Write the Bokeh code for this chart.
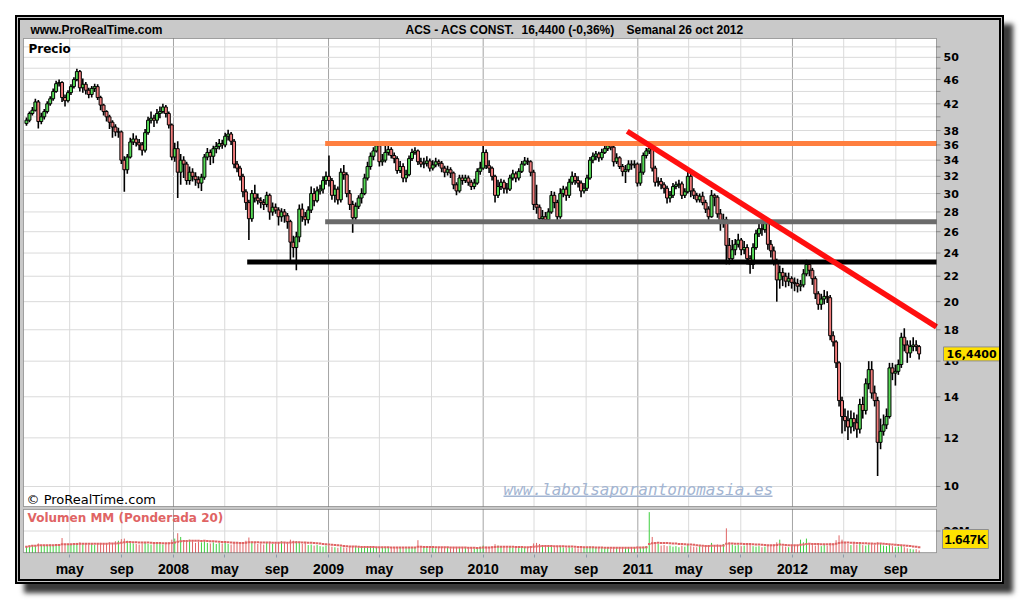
import numpy as np
import pandas as pd
from bokeh.plotting import figure
from bokeh.layouts import column
from bokeh.models import ColumnDataSource, Range1d, FixedTicker, Label, BoxAnnotation
from bokeh.embed import file_html
from bokeh.resources import INLINE
from bokeh.core.properties import value

# ---------------- data (weekly, ACS) ----------------
first_date = "2007-01-19"
last_date = "2012-10-26"
first_open = 39.0

close_2007 = [39.5, 40.5, 41.0, 42.3, 39.3, 40.0, 40.8, 42.0, 42.8, 44.0, 45.3, 45.5, 43.0, 42.5, 43.8, 44.8, 46.0, 47.4, 44.6, 45.2,
              44.2, 43.5, 44.5, 44.8, 43.0, 41.8, 40.8, 40.0, 39.2, 38.5, 37.8, 37.8, 34.0, 32.8, 34.4, 36.4, 36.8, 36.3, 36.0, 35.3,
              37.7, 39.5, 39.8, 39.5, 40.5, 40.8, 41.5, 40.5, 38.8, 34.4]
close_2008 = [35.5, 32.5, 34.0, 33.5, 31.5, 32.5, 32.0, 31.6, 31.2, 31.9, 34.4, 35.0, 34.5, 35.5, 35.8, 36.2, 36.0, 37.2, 37.5, 36.5,
              33.5, 33.0, 32.0, 30.2, 29.0, 27.3, 30.0, 29.5, 29.2, 29.0, 28.8, 29.8, 28.0, 28.5, 28.2, 27.5, 28.0, 27.6, 27.0, 25.0,
              24.5, 25.5, 28.3, 27.5, 27.2, 28.2, 30.0, 29.2, 30.3, 30.5, 31.5, 32.0]
close_2009 = [31.5, 29.8, 30.5, 29.3, 32.5, 32.2, 30.0, 28.8, 27.4, 28.6, 29.5, 30.0, 31.8, 33.2, 34.5, 35.2, 35.9, 33.8, 34.0, 35.0,
              35.4, 34.6, 34.2, 32.7, 33.2, 31.8, 32.2, 34.2, 35.0, 35.2, 33.8, 33.5, 33.6, 33.9, 33.0, 33.4, 33.8, 33.6, 33.0, 32.5,
              32.8, 32.4, 31.0, 30.3, 31.8, 31.5, 31.8, 31.3, 30.8, 31.2, 32.6, 33.0]
close_2010 = [35.0, 33.3, 33.0, 32.0, 29.8, 30.8, 31.3, 30.6, 30.5, 31.8, 32.3, 31.8, 32.6, 33.5, 33.9, 33.8, 32.5, 28.8, 28.5, 27.3,
              27.5, 27.2, 28.0, 29.8, 29.0, 27.5, 30.0, 30.5, 29.8, 31.3, 32.0, 31.5, 31.2, 30.3, 30.6, 31.8, 34.0, 34.5, 34.8, 34.3,
              35.0, 35.5, 35.9, 35.7, 33.8, 34.3, 33.2, 32.6, 32.8, 33.5, 33.4, 33.5, 31.2]
close_2011 = [32.5, 34.6, 35.2, 35.5, 33.0, 31.3, 31.4, 31.0, 30.6, 29.5, 29.8, 30.8, 31.0, 31.1, 29.8, 30.2, 32.0, 30.3, 29.8, 29.3,
              29.7, 29.0, 28.3, 27.5, 29.8, 29.6, 27.8, 26.8, 27.2, 24.7, 23.5, 24.3, 24.8, 25.2, 24.3, 24.5, 23.5, 23.0, 24.5, 25.8,
              26.3, 26.2, 26.8, 24.8, 24.2, 23.3, 21.7, 22.3, 22.0, 21.6, 21.8, 21.5]
close_2012 = [21.4, 21.2, 21.3, 22.2, 23.0, 22.5, 21.8, 20.6, 19.8, 20.2, 20.4, 20.3, 17.6, 17.2, 15.9, 13.8, 13.0, 12.8, 12.5, 12.9,
              12.7, 12.4, 13.6, 13.3, 14.7, 15.5, 14.2, 13.8, 11.8, 12.3, 12.6, 13.0, 15.6, 15.3, 15.4, 15.8, 17.5, 17.0, 16.5, 16.9,
              17.0, 16.9, 16.44]

high_2007 = [39.9, 40.8, 41.5, 42.8, 42.6, 40.6, 41.2, 42.4, 43.2, 44.5, 45.8, 46.0, 45.7, 43.5, 44.2, 45.2, 46.4, 47.9, 47.7, 46.2,
             45.6, 44.6, 44.9, 45.3, 45.2, 43.3, 42.0, 41.0, 40.3, 39.5, 38.9, 38.4, 38.0, 34.5, 34.8, 37.0, 37.6, 37.3, 36.8, 36.4,
             38.2, 40.0, 40.8, 40.3, 41.2, 41.6, 42.0, 41.8, 40.8, 39.0]
high_2008 = [36.3, 36.5, 34.8, 34.5, 33.8, 33.2, 33.0, 32.5, 32.0, 32.3, 34.8, 35.6, 35.4, 35.9, 36.4, 36.8, 36.7, 37.7, 38.1, 37.8,
             36.8, 33.9, 33.3, 32.3, 30.5, 29.3, 30.4, 31.0, 30.0, 29.6, 29.4, 30.2, 30.0, 29.0, 28.9, 28.5, 28.4, 28.3, 27.9, 27.2,
             25.6, 26.0, 28.8, 28.9, 28.0, 28.6, 30.8, 30.6, 30.8, 31.0, 32.0, 32.6]
high_2009 = [34.6, 31.8, 31.0, 30.8, 33.0, 33.4, 32.5, 30.4, 29.2, 29.0, 29.8, 30.6, 32.3, 33.8, 35.0, 35.7, 36.3, 36.1, 34.8, 35.9,
             35.9, 35.7, 35.0, 34.5, 33.9, 33.6, 32.8, 34.6, 35.5, 35.7, 35.4, 34.3, 34.3, 34.5, 34.2, 34.0, 34.3, 34.1, 33.9, 33.3,
             33.3, 33.1, 32.6, 31.3, 32.2, 32.2, 32.2, 32.1, 31.6, 31.7, 33.0, 33.8]
high_2010 = [36.2, 35.4, 34.0, 33.2, 32.2, 31.6, 31.7, 31.6, 31.2, 32.2, 32.8, 32.6, 33.0, 33.9, 34.4, 34.3, 34.0, 32.8, 31.0, 28.8,
             28.2, 28.0, 28.4, 30.3, 30.2, 29.3, 30.6, 30.9, 30.8, 31.7, 32.6, 32.4, 32.0, 31.5, 31.2, 32.2, 34.4, 35.0, 35.2, 35.1,
             35.5, 35.9, 36.3, 36.3, 35.9, 34.9, 34.5, 33.5, 33.4, 34.0, 34.0, 34.0, 33.7]
high_2011 = [33.6, 35.0, 35.6, 36.1, 35.7, 33.3, 31.9, 31.8, 31.3, 30.9, 30.3, 31.2, 31.4, 31.6, 31.4, 30.6, 32.6, 32.3, 30.6, 30.1,
             30.0, 30.2, 29.3, 28.6, 30.4, 30.0, 29.8, 28.3, 27.8, 27.5, 25.4, 25.2, 25.3, 25.8, 25.4, 25.1, 24.8, 23.8, 24.9, 26.2,
             26.8, 26.8, 27.3, 27.0, 25.2, 24.6, 23.5, 22.9, 22.7, 22.3, 22.3, 22.0]
high_2012 = [21.9, 21.8, 21.7, 22.6, 23.4, 23.3, 22.7, 22.0, 20.8, 20.6, 20.9, 20.8, 20.5, 17.9, 17.3, 16.0, 14.0, 13.4, 13.3, 13.3,
             13.2, 13.1, 13.9, 14.0, 15.0, 16.0, 16.0, 14.6, 14.0, 12.9, 13.1, 13.4, 15.9, 15.9, 15.8, 16.1, 17.8, 18.1, 17.3, 17.3,
             17.5, 17.3, 17.0]

low_2007 = [38.7, 39.2, 40.2, 40.8, 38.3, 38.9, 39.6, 40.5, 41.7, 42.5, 43.8, 44.8, 42.3, 41.6, 42.2, 43.4, 44.5, 45.7, 44.0, 43.8,
            43.5, 42.9, 43.0, 43.9, 42.6, 41.0, 40.2, 39.3, 38.2, 37.0, 37.2, 37.0, 33.5, 30.2, 32.3, 34.2, 36.0, 35.8, 35.3, 34.6,
            35.0, 37.4, 39.0, 38.5, 39.0, 39.8, 40.5, 39.9, 38.3, 34.0]
low_2008 = [33.8, 29.5, 31.0, 31.8, 31.0, 31.0, 31.4, 30.9, 30.6, 30.3, 31.6, 34.0, 33.4, 33.6, 34.9, 35.4, 35.5, 35.7, 36.6, 36.0,
            33.0, 32.5, 31.5, 29.6, 28.2, 25.2, 27.0, 29.0, 28.8, 28.4, 28.2, 28.5, 27.2, 27.6, 27.8, 26.6, 27.0, 26.9, 26.3, 23.3,
            23.6, 22.5, 25.0, 27.0, 26.6, 26.8, 27.9, 28.6, 29.0, 29.9, 30.0, 31.0]
low_2009 = [30.8, 29.3, 29.0, 28.8, 29.0, 31.6, 29.6, 28.2, 25.9, 27.0, 28.3, 28.9, 29.8, 31.5, 32.8, 34.0, 35.0, 33.2, 33.3, 33.7,
            34.6, 34.2, 33.6, 32.3, 32.4, 31.3, 31.3, 32.0, 33.9, 34.7, 33.4, 33.1, 33.0, 33.2, 32.6, 32.7, 33.1, 33.2, 32.5, 31.9,
            32.1, 31.8, 30.5, 29.8, 30.1, 31.0, 31.2, 30.9, 30.4, 30.5, 31.0, 32.2]
low_2010 = [32.8, 32.9, 32.4, 31.5, 29.0, 29.5, 30.4, 30.0, 30.0, 30.3, 31.5, 31.3, 31.5, 32.4, 33.3, 33.4, 32.0, 28.2, 27.8, 27.0,
            27.0, 26.9, 26.9, 27.8, 28.4, 27.0, 27.3, 29.6, 29.2, 29.5, 31.0, 31.0, 30.7, 29.6, 30.0, 30.3, 31.6, 33.6, 34.0, 33.8,
            34.0, 34.8, 35.2, 35.3, 33.2, 33.5, 32.9, 32.0, 31.2, 32.5, 32.8, 33.0, 30.8]
low_2011 = [30.9, 32.2, 34.2, 34.8, 32.6, 30.8, 30.8, 30.5, 30.0, 28.9, 29.0, 29.5, 30.5, 30.6, 29.4, 29.5, 30.0, 29.6, 29.4, 29.0,
            29.0, 28.7, 27.9, 27.0, 27.4, 28.6, 27.4, 26.1, 26.4, 23.0, 23.0, 23.2, 23.8, 24.5, 23.8, 23.9, 23.0, 22.2, 22.6, 24.3,
            25.5, 25.6, 25.9, 24.3, 23.6, 22.9, 20.0, 21.0, 21.2, 21.1, 21.2, 21.0]
low_2012 = [20.8, 20.7, 20.8, 21.1, 22.0, 22.0, 21.3, 20.2, 19.4, 19.4, 19.8, 19.9, 17.3, 16.9, 15.6, 13.5, 12.2, 12.3, 11.9, 12.2,
            12.3, 12.0, 12.2, 12.9, 13.1, 14.4, 13.9, 13.5, 10.4, 11.5, 12.1, 12.4, 12.9, 14.9, 14.6, 15.2, 15.6, 16.6, 15.9, 16.2,
            16.6, 16.6, 16.1]

# volume in millions
vol_2007 = [5.5, 6.5, 7.0, 6.0, 8.5, 7.0, 6.5, 6.8, 7.5, 7.2, 8.0, 7.5, 13.5, 8.0, 7.0, 7.5, 8.5, 9.0, 9.5, 7.8,
            8.0, 7.5, 8.2, 7.0, 8.5, 9.0, 8.0, 8.5, 9.5, 8.0, 10.5, 11.0, 12.5, 13.0, 11.0, 9.5, 8.5, 8.0, 7.5, 8.5,
            9.0, 8.0, 7.5, 8.0, 8.5, 9.0, 7.5, 8.0, 9.5, 12.0]
vol_2008 = [13.0, 18.0, 14.5, 11.5, 11.0, 12.0, 10.5, 9.0, 10.0, 9.5, 11.0, 9.0, 8.5, 9.5, 8.0, 9.0, 8.5, 9.5, 8.0, 7.5,
            10.0, 9.0, 8.5, 9.5, 11.0, 14.0, 10.0, 9.5, 8.0, 8.5, 7.5, 9.5, 10.0, 8.0, 8.5, 9.0, 10.5, 9.0, 8.5, 12.0,
            11.0, 10.5, 9.0, 8.0, 9.5, 7.0, 7.5, 6.5, 7.0, 6.0, 5.5, 6.5]
vol_2009 = [6.0, 5.5, 5.0, 4.5, 5.5, 4.8, 4.5, 5.0, 5.8, 5.2, 4.8, 4.5, 5.0, 5.5, 4.8, 5.0, 4.5, 5.2, 4.8, 4.5,
            5.0, 4.2, 4.6, 5.0, 4.5, 4.8, 4.2, 4.5, 5.0, 4.6, 11.5, 5.0, 4.5, 4.2, 4.8, 4.5, 4.0, 4.6, 4.3, 4.8,
            4.5, 4.0, 5.0, 4.6, 4.2, 4.8, 4.5, 4.0, 4.4, 3.8, 4.2, 5.5]
vol_2010 = [6.5, 5.5, 5.0, 5.8, 7.8, 6.5, 5.5, 5.0, 4.8, 5.2, 4.6, 4.5, 4.2, 4.8, 4.4, 4.6, 6.0, 8.5, 9.0, 8.0,
            6.5, 6.0, 5.5, 6.2, 5.0, 5.8, 5.5, 4.8, 4.5, 5.0, 4.6, 4.2, 4.0, 4.5, 4.2, 4.8, 5.5, 4.8, 4.5, 4.2,
            4.6, 4.0, 4.4, 3.8, 5.0, 4.5, 4.2, 4.8, 4.5, 4.2, 4.8, 5.0, 5.5]
vol_2011 = [5.0, 5.5, 6.0, 37.5, 14.5, 9.0, 8.0, 6.5, 7.0, 6.0, 6.5, 5.5, 6.0, 5.0, 6.5, 5.5, 7.0, 6.0, 5.5, 5.0,
            6.0, 5.5, 6.5, 7.0, 9.0, 6.0, 7.5, 6.5, 8.0, 22.5, 9.5, 7.5, 6.5, 7.0, 6.0, 6.5, 7.0, 7.5, 6.0, 5.5,
            6.0, 5.0, 5.5, 7.0, 6.5, 7.5, 9.5, 12.0, 6.0, 5.5, 5.0, 6.0]
vol_2012 = [6.5, 7.0, 12.0, 9.5, 13.0, 8.0, 7.0, 6.5, 7.5, 6.0, 7.0, 6.5, 9.0, 8.5, 11.5, 16.0, 12.0, 9.5, 8.0, 7.0,
            9.0, 7.5, 8.5, 7.0, 6.5, 7.5, 8.0, 7.0, 9.5, 8.0, 6.5, 6.0, 7.5, 6.0, 5.0, 5.5, 6.5, 5.0, 4.0, 3.5,
            3.0, 3.2, 2.0]

# drawn support / resistance lines
level_prices = [36.2, 27.0, 23.2]
level_starts = ["2008-12-24", "2008-12-24", "2008-06-23"]
level_colors = ["#FF7F3F", "#6B6B6B", "#000000"]
trend_dates = ["2010-12-07", "2012-12-06"]
trend_prices = [37.9, 18.2]

price_ticks = list(range(10, 54, 2))
price_labelled = [10, 12, 14, 16, 18, 20, 22, 24, 26, 28, 30, 32, 34, 36, 38, 42, 46, 50]
month_ticks = ["2007-05-01", "2007-09-01", "2008-01-01", "2008-05-01", "2008-09-01", "2009-01-01", "2009-05-01",
               "2009-09-01", "2010-01-01", "2010-05-01", "2010-09-01", "2011-01-01", "2011-05-01", "2011-09-01",
               "2012-01-01", "2012-05-01", "2012-09-01"]
month_labels = ["may", "sep", "2008", "may", "sep", "2009", "may", "sep", "2010", "may", "sep", "2011",
                "may", "sep", "2012", "may", "sep"]
vol_ticks = [20e6]
vol_tick_labels = ["20M"]
last_vol_text = "1.647K"
last_price_text = "16,4400"

# ---------------- build ----------------
dates = pd.date_range(first_date, last_date, freq="W-FRI")
close = np.array(close_2007 + close_2008 + close_2009 + close_2010 + close_2011 + close_2012)
high = np.array(high_2007 + high_2008 + high_2009 + high_2010 + high_2011 + high_2012)
low = np.array(low_2007 + low_2008 + low_2009 + low_2010 + low_2011 + low_2012)
vol = np.array(vol_2007 + vol_2008 + vol_2009 + vol_2010 + vol_2011 + vol_2012) * 1e6
opn = np.concatenate([[first_open], close[:-1]])
up = close >= opn

GREEN = "#55DA55"
RED = "#F07B7B"
VGREEN = "#3FCF3F"
VRED = "#E06464"
GRAYBG = "#C9C9C9"
GRID_L = "#DADADA"
GRID_D = "#A4A4A4"
TICK_C = "#8A8A8A"

# weighted moving average (20) of volume
w = np.arange(1, 21, dtype=float)
wma = []
for i in range(len(vol)):
    seg = vol[max(0, i - 19): i + 1]
    ww = w[-len(seg):]
    wma.append(float((seg * ww).sum() / ww.sum()))

src = ColumnDataSource(dict(
    date=dates, open=opn, close=close, high=high, low=low,
    top=np.maximum(opn, close), bottom=np.minimum(opn, close),
    color=[GREEN if u else RED for u in up],
    vol=vol, vzero=np.zeros(len(vol)), wma=wma,
    vcolor=[VGREEN if u else VRED for u in up],
))

# ---------------- geometry ----------------
FIG_W = 979          # inner width of the grey frame
PANEL_L = 3          # panel left edge inside figure (px)
PANEL_W = 913        # panel width (px)
RIGHT_GUT = FIG_W - PANEL_L - PANEL_W
x_start = pd.Timestamp("2007-01-12")   # panel left
x_end = pd.Timestamp("2012-12-06")     # panel right
ms_px = (x_end - x_start) / PANEL_W
fr_x = Range1d(x_start - PANEL_L * ms_px, x_end + RIGHT_GUT * ms_px)

y_lo, y_hi = 9.277, 53.66   # price panel limits
P_TOP, P_H, P_BOT = 18, 468, 2
ppl = P_H / np.log(y_hi / y_lo)
fr_y = Range1d(y_lo * np.exp(-P_BOT / ppl), y_hi * np.exp(P_TOP / ppl))
P_FIG_H = P_TOP + P_H + P_BOT

mon_d = [pd.Timestamp(d) for d, lab in zip(month_ticks, month_labels) if not lab.isdigit()]
year_d = [pd.Timestamp(d) for d, lab in zip(month_ticks, month_labels) if lab.isdigit()]

def txt(fig, x, y, text, font, size, style="bold", color="black", **kw):
    fig.add_layout(Label(x=x, y=y, x_units="screen", y_units="screen", text=text, text_font=font,
                         text_font_size=size, text_font_style=style, text_color=color,
                         text_baseline="middle", **kw))

def base_fig(h, yr, ytype, bottom):
    f = figure(width=FIG_W, height=h, x_range=fr_x, y_range=yr, x_axis_type="datetime", y_axis_type=ytype,
               x_axis_location=("below" if bottom else None), y_axis_location=None,
               output_backend="svg", toolbar_location=None,
               min_border_left=0, min_border_right=0, min_border_top=0, min_border_bottom=bottom)
    f.background_fill_color = GRAYBG
    f.border_fill_color = GRAYBG
    f.outline_line_color = None
    f.xgrid.grid_line_color = None
    f.ygrid.grid_line_color = None
    return f

def panel(f, ylo, yhi, hticks):
    f.add_layout(BoxAnnotation(left=x_start, right=x_end, bottom=ylo, top=yhi, fill_color="white",
                               fill_alpha=1, line_color=None, level="image"))
    f.segment(x0=mon_d, x1=mon_d, y0=[ylo] * len(mon_d), y1=[yhi] * len(mon_d), line_color=GRID_L,
              line_width=1, level="underlay")
    f.segment(x0=year_d, x1=year_d, y0=[ylo] * len(year_d), y1=[yhi] * len(year_d), line_color=GRID_D,
              line_width=1, level="underlay")
    f.segment(x0=[x_start] * len(hticks), x1=[x_end] * len(hticks), y0=hticks, y1=hticks,
              line_color=GRID_L, line_width=1, level="underlay")

def outline(f, ylo, yhi):
    f.add_layout(BoxAnnotation(left=x_start, right=x_end, bottom=ylo, top=yhi, fill_alpha=0,
                               line_color="black", line_width=1))

def right_ticks(f, ticks, labelled, labels):
    f.ray(x=[x_end] * len(ticks), y=ticks, length=4, length_units="screen", angle=0,
          line_color=TICK_C, line_width=1)
    f.text(x=[x_end] * len(labelled), y=labelled, text=labels, x_offset=7,
           text_baseline="middle", text_align="left", text_font=value("DejaVu Sans"),
           text_font_style="bold", text_font_size="11px", text_color="black")

# ---- price panel ----
p = base_fig(P_FIG_H, fr_y, "log", 0)
panel(p, y_lo, y_hi, price_ticks)
p.segment(x0="date", y0="low", x1="date", y1="high", source=src, line_color="black", line_width=1.6)
p.vbar(x="date", width=7 * 86400000, top="top", bottom="bottom", source=src,
       fill_color="color", line_color="black", line_width=1)
lvl = ColumnDataSource(dict(x0=pd.to_datetime(level_starts), x1=[x_end] * len(level_prices),
                            y=level_prices, c=level_colors))
p.segment(x0="x0", y0="y", x1="x1", y1="y", source=lvl, line_color="c", line_width=5)
p.line(x=pd.to_datetime(trend_dates), y=trend_prices, line_color="#FF0F0F", line_width=5.5)
outline(p, y_lo, y_hi)
right_ticks(p, price_ticks, price_labelled, [str(t) for t in price_labelled])

HY = P_FIG_H - 9.5   # header text centre (px above figure bottom)
txt(p, 10, HY, "www.ProRealTime.com", "Liberation Sans", "12px")
txt(p, 385, HY, "ACS - ACS CONST.", "Liberation Sans", "12px")
txt(p, 501, HY, "16,4400 (-0,36%)", "Liberation Sans", "12px")
txt(p, 606, HY, "Semanal", "Liberation Sans", "12px")
txt(p, 658, HY, "26 oct 2012", "Liberation Sans", "12px")
txt(p, 8, P_FIG_H - 28.5, "Precio", "DejaVu Sans", "12px")
txt(p, 6, 9, "\u00a9 ProRealTime.com", "DejaVu Sans", "13px", style="normal")
txt(p, 483, 19, "www.labolsaporantonomasia.es", "DejaVu Sans Mono", "16px", style="italic", color="#A3B5D2")
p.add_layout(BoxAnnotation(left=483, right=752, bottom=11.5, top=13, left_units="screen", right_units="screen",
                           bottom_units="screen", top_units="screen", fill_color="#A3B5D2", fill_alpha=1,
                           line_color=None))
p.add_layout(Label(x=x_end, y=float(close[-1]), x_offset=7, text=last_price_text,
                   text_font="DejaVu Sans", text_font_style="bold", text_font_size="11px", text_color="black",
                   text_baseline="middle", background_fill_color="#FFE100", border_line_color="#8E8E8E",
                   padding=3))

# ---- volume panel ----
v_hi = 40e6
V_TOP, V_H, V_BOT = 1, 46, 2
vpp = V_H / v_hi
fr_v = Range1d(-V_BOT / vpp, v_hi + V_TOP / vpp)
AX_H = 22
pv = base_fig(V_TOP + V_H + V_BOT + AX_H, fr_v, "linear", AX_H)
panel(pv, 0, v_hi, vol_ticks)
pv.segment(x0="date", y0="vzero", x1="date", y1="vol", source=src, line_color="vcolor", line_width=1)
pv.scatter(x="date", y="wma", source=src, marker="dash", size=2.5, line_color=VRED, line_width=2)
outline(pv, 0, v_hi)
right_ticks(pv, vol_ticks, vol_ticks, vol_tick_labels)

xax = pv.xaxis[0]
xax.ticker = FixedTicker(ticks=[pd.Timestamp(d).value // 10**6 for d in month_ticks])
xax.major_label_overrides = {pd.Timestamp(d).value // 10**6: lab for d, lab in zip(month_ticks, month_labels)}
xax.axis_line_color = None
xax.major_tick_line_color = "#8A9AAA"
xax.major_tick_out = 3
xax.major_tick_in = 0
xax.minor_tick_line_color = None
xax.major_label_standoff = 3
xax.major_label_text_font = "Liberation Sans"
xax.major_label_text_font_style = "bold"
xax.major_label_text_font_size = "14px"
xax.major_label_text_color = "black"

txt(pv, 7, V_BOT + V_H - 11.5, "Volumen MM (Ponderada 20)", "DejaVu Sans", "12px", color="#E06464")
pv.add_layout(Label(x=x_end, y=V_BOT + 13.5, x_units="data", y_units="screen", x_offset=6, text=last_vol_text,
                    text_font="Liberation Sans", text_font_style="bold", text_font_size="13px", text_color="black",
                    text_baseline="middle", background_fill_color="#FFE100", border_line_color="#8E8E8E",
                    padding=2))

framed = column(p, pv, styles={"background-color": GRAYBG, "border": "5px double #000000",
                               "box-shadow": "9px 9px 5px #3a3a3a"})
layout = column(framed, styles={"border-left": "15px solid #FFFFFF", "border-top": "15px solid #FFFFFF"})

open("out.html", "w").write(file_html(layout, INLINE))
